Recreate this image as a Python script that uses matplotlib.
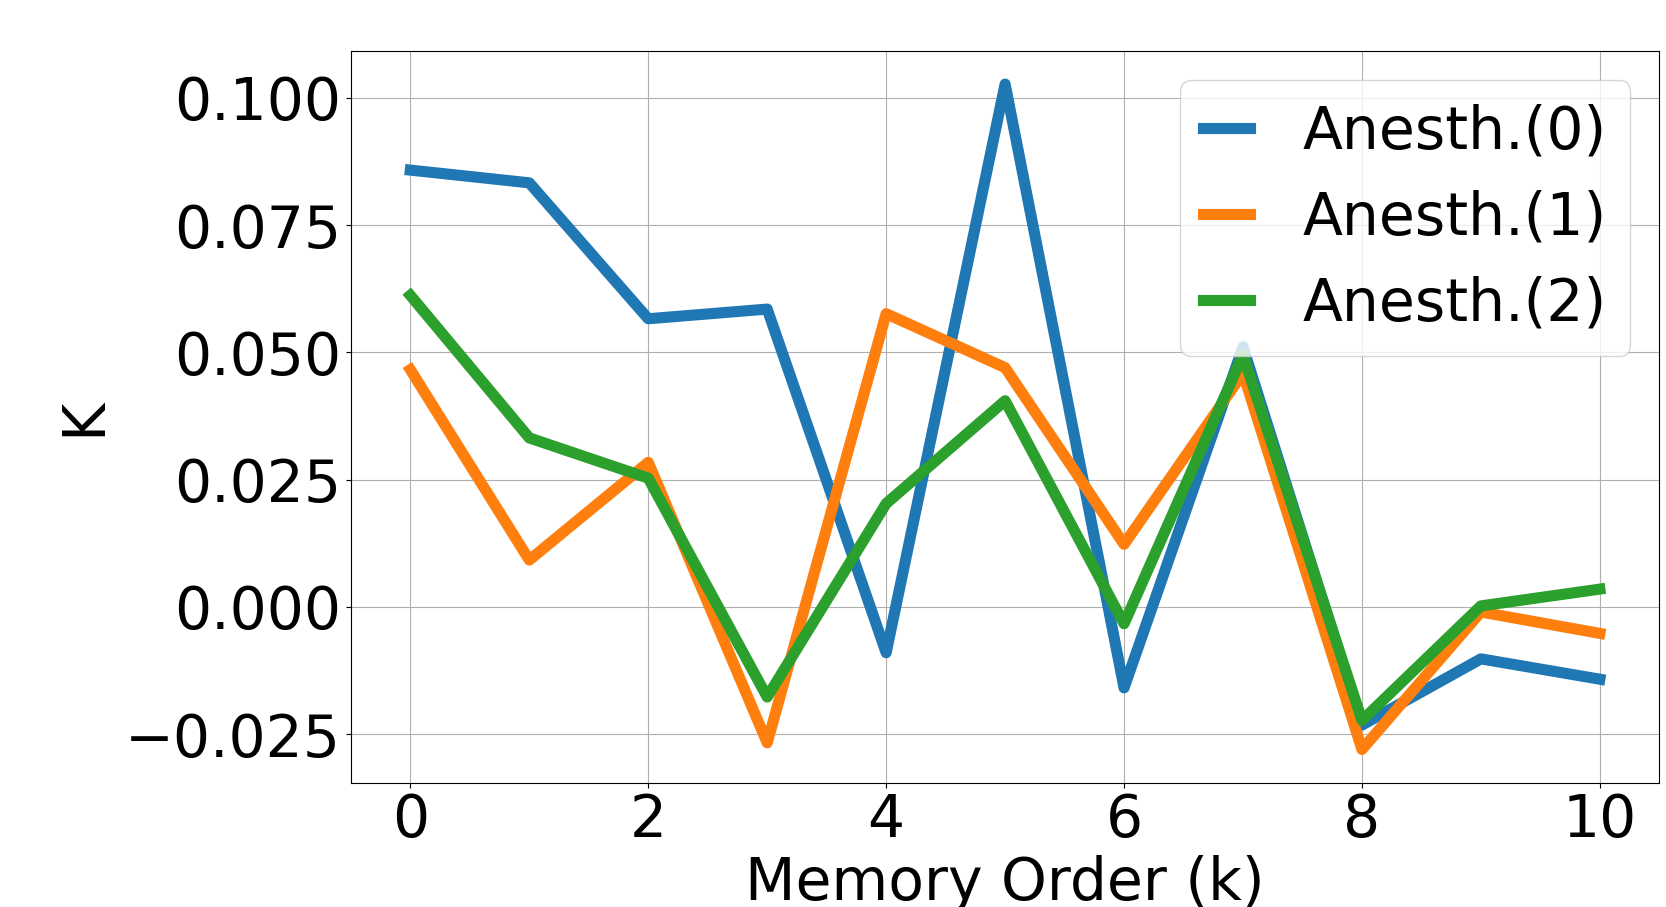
import matplotlib
matplotlib.use("Agg")
import matplotlib.pyplot as plt

k = list(range(11))
anesth0 = [0.0858, 0.0833, 0.0566, 0.0585, -0.0090, 0.1027, -0.0159, 0.0511, -0.0232, -0.0102, -0.0142]
anesth1 = [0.0466, 0.0092, 0.0284, -0.0267, 0.0576, 0.0470, 0.0123, 0.0459, -0.0280, -0.0010, -0.0052]
anesth2 = [0.0612, 0.0332, 0.0253, -0.0177, 0.0203, 0.0405, -0.0033, 0.0495, -0.0223, 0.0002, 0.0035]

fs = 42
fig = plt.figure(figsize=(16.66, 9.07), dpi=100)
ax = fig.add_axes([0.2106, 0.137, 0.7854, 0.807])

ax.plot(k, anesth0, lw=8, label="Anesth.(0)")
ax.plot(k, anesth1, lw=8, label="Anesth.(1)")
ax.plot(k, anesth2, lw=8, label="Anesth.(2)")

ax.set_yticks([-0.025, 0.0, 0.025, 0.05, 0.075, 0.1])
ax.set_xticks([0, 2, 4, 6, 8, 10])
ax.tick_params(labelsize=fs)
ax.set_xlabel("Memory Order (k)", fontsize=fs, labelpad=4)
ax.set_ylabel("K", fontsize=fs, labelpad=9)
ax.grid(True)
ax.legend(fontsize=fs, loc="upper right", handlelength=0.8, handletextpad=0.9)

fig.savefig("out.png", dpi=100)
